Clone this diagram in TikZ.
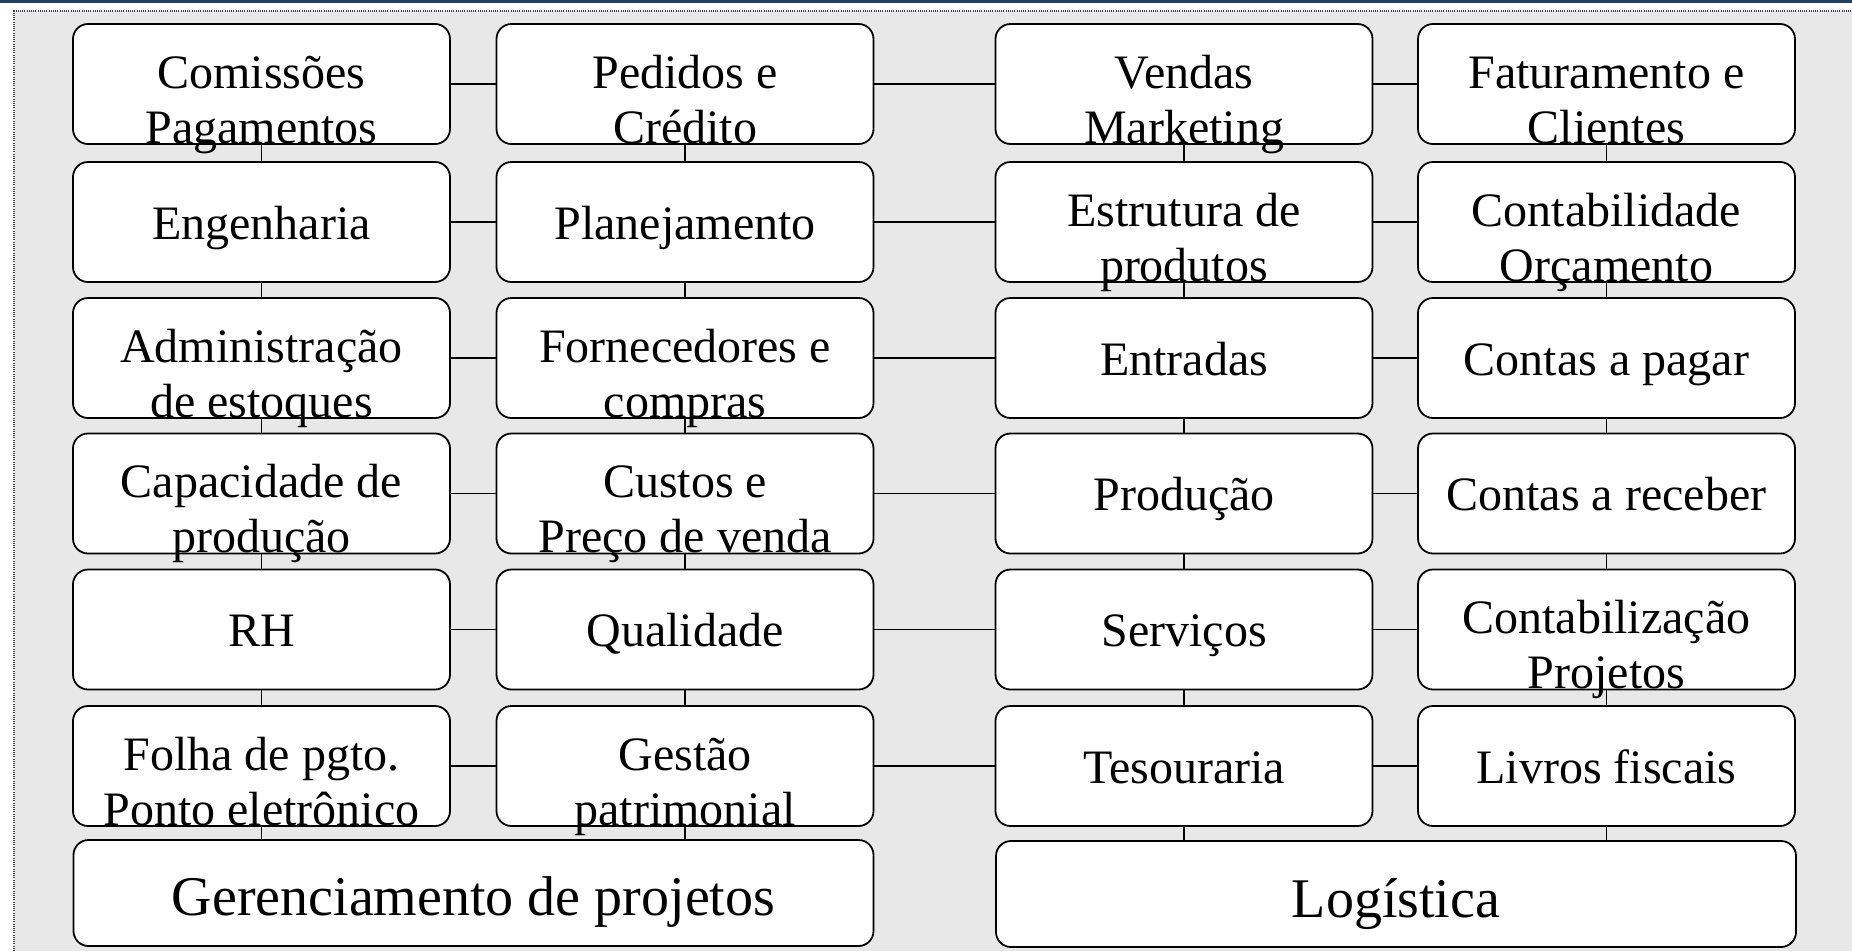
\documentclass[tikz,border=0pt]{standalone}
\usepackage{fontspec}
\setmainfont{Liberation Serif}
\begin{document}
\begin{tikzpicture}[x=1pt,y=-1pt,
  cellbox/.style={draw=black, line width=1.8pt, fill=white, rounded corners=15pt,
    minimum width=377pt, minimum height=120pt, inner sep=0pt, outer sep=0pt},
  bigbox/.style={cellbox, minimum width=800pt, minimum height=106pt},
  txt/.style={inner sep=0pt, outer sep=0pt, anchor=base, font=\fontsize{48}{55}\selectfont},
  bigtxt/.style={txt, font=\fontsize{56}{62}\selectfont},
  link/.style={draw=black, line width=1.3pt}]
\useasboundingbox (0,0) rectangle (1852,951);
\fill[white] (0,0) rectangle (1852,951);
\fill[black!9] (14,11) rectangle (1852,951);
\draw[black!75, line width=1.5pt, dash pattern=on 1pt off 1.2pt] (14,951) -- (14,11) -- (1852,11);
\fill[fill={rgb,255:red,38;green,60;blue,96}] (0,0) rectangle (1852,2.6);
% cell macros
\newcommand\mkone[4]{\node[cellbox] (#1) at (#2,#3) {};
  \node[txt] (#1t) at (#2,#3+17) {#4};}
\newcommand\mktwo[5]{\node[cellbox] (#1) at (#2,#3) {};
  \node[txt] (#1a) at (#2,#3+4) {#4};
  \node[txt] (#1b) at (#2,#3+59) {#5};}
% row 1
\mktwo{a1}{261.5}{84}{Comissões}{Pagamentos}
\mktwo{b1}{685}{84}{Pedidos e}{Crédito}
\mktwo{c1}{1184}{84}{Vendas}{Marketing}
\mktwo{d1}{1606.5}{84}{Faturamento e}{Clientes}
% row 2
\mkone{a2}{261.5}{222}{Engenharia}
\mkone{b2}{685}{222}{Planejamento}
\mktwo{c2}{1184}{222}{Estrutura de}{produtos}
\mktwo{d2}{1606.5}{222}{Contabilidade}{Orçamento}
% row 3
\mktwo{a3}{261.5}{358}{Administração}{de estoques}
\mktwo{b3}{685}{358}{Fornecedores e}{compras}
\mkone{c3}{1184}{358}{Entradas}
\mkone{d3}{1606.5}{358}{Contas a pagar}
% row 4
\mktwo{a4}{261.5}{493.5}{Capacidade de}{produção}
\mktwo{b4}{685}{493.5}{Custos e}{Preço de venda}
\mkone{c4}{1184}{493.5}{Produção}
\mkone{d4}{1606.5}{493.5}{Contas a receber}
% row 5
\mkone{a5}{261.5}{629.5}{RH}
\mkone{b5}{685}{629.5}{Qualidade}
\mkone{c5}{1184}{629.5}{Serviços}
\mktwo{d5}{1606.5}{629.5}{Contabilização}{Projetos}
% row 6
\mktwo{a6}{261.5}{766}{Folha de pgto.}{Ponto eletrônico}
\mktwo{b6}{685}{766}{Gestão}{patrimonial}
\mkone{c6}{1184}{766}{Tesouraria}
\mkone{d6}{1606.5}{766}{Livros fiscais}
% row 7
\node[bigbox] (gp) at (473.5,893) {};
\node[bigtxt] (gpt) at (473.5,915) {Gerenciamento de projetos};
\node[bigbox, minimum width=800pt] (lg) at (1396,894) {};
\node[bigtxt] (lgt) at (1396,917) {Logística};
% connectors
\foreach \r in {1,...,6}{
  \draw[link] (a\r.east) -- (b\r.west);
  \draw[link] (b\r.east) -- (c\r.west);
  \draw[link] (c\r.east) -- (d\r.west);
}
\foreach \c in {a,b,c,d}{
  \foreach \r/\s in {1/2,2/3,3/4,4/5,5/6}{
    \draw[link] (\c\r.south) -- (\c\s.north);
  }
}
\draw[link] (a6.south) -- (a6.south |- gp.north);
\draw[link] (b6.south) -- (b6.south |- gp.north);
\draw[link] (c6.south) -- (c6.south |- lg.north);
\draw[link] (d6.south) -- (d6.south |- lg.north);
\end{tikzpicture}
\end{document}
